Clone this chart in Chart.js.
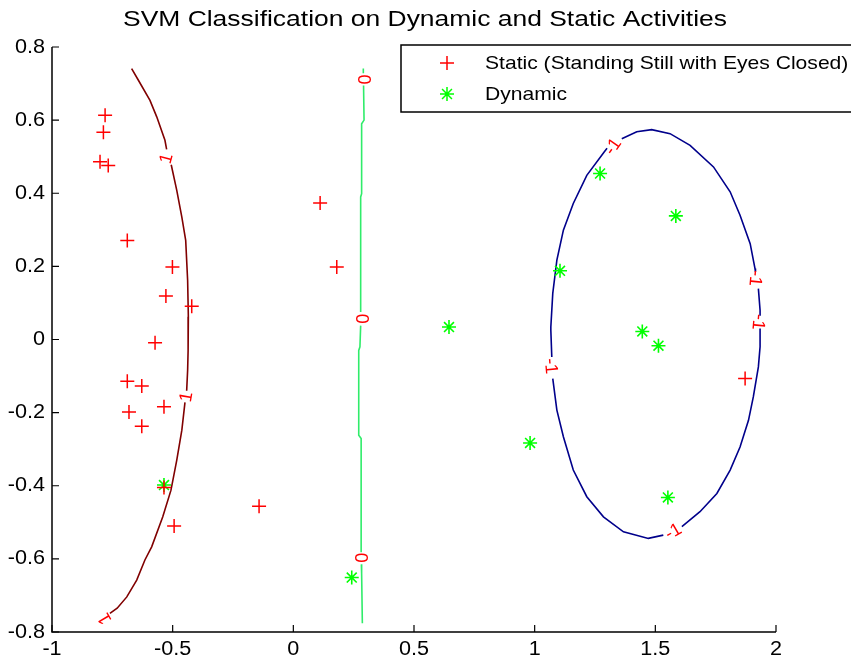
<!DOCTYPE html>
<html>
<head>
<meta charset="utf-8">
<script src="https://cdn.jsdelivr.net/npm/chart.js@4"></script>
<style>
    html, body { margin: 0; padding: 0; background: #fff; }
    #wrap { width: 851px; height: 662px; }
</style>
</head>
<body>
<div id="wrap"><canvas id="svmChart" width="851" height="662"></canvas></div>
<script>
// scatter points
const staticX = [-0.780, -0.787, -0.801, -0.767, -0.688, -0.501, -0.528, -0.421, -0.573, -0.688,
                 -0.628, -0.536, -0.681, -0.628, -0.536, -0.494, -0.142, 0.111, 0.180, 1.872];
const staticY = [0.613, 0.567, 0.486, 0.476, 0.271, 0.198, 0.119, 0.091, -0.009, -0.114,
                 -0.127, -0.184, -0.198, -0.237, -0.405, -0.510, -0.456, 0.373, 0.198, -0.107];
const dynamicX = [-0.536, 0.645, 0.981, 0.242, 1.271, 1.585, 1.105, 1.446, 1.513, 1.552];
const dynamicY = [-0.398, 0.034, -0.283, -0.651, 0.454, 0.338, 0.188, 0.022, -0.017, -0.432];

// contour level 1 (left curve), NaN = gap for a label
const levelPosX = [-0.670, -0.642, -0.594, -0.566, -0.532, -0.525, NaN, -0.506, -0.483, -0.462, -0.446,
                   -0.438, -0.435, -0.436, -0.438, -0.442, NaN, -0.449, -0.462, -0.483, -0.507, -0.541,
                   -0.587, -0.615, -0.649, -0.690, -0.730, -0.760];
const levelPosY = [0.741, 0.709, 0.654, 0.609, 0.545, 0.520, NaN, 0.478, 0.408, 0.335, 0.271,
                   0.162, 0.062, -0.030, -0.084, -0.140, NaN, -0.172, -0.248, -0.330, -0.412, -0.485,
                   -0.567, -0.603, -0.658, -0.704, -0.735, -0.749];

// contour level 0
const levelZeroX = [0.290, 0.290, NaN, 0.291, 0.293, 0.283, 0.283, 0.279, 0.279, NaN, 0.279, 0.276,
                    0.271, 0.271, 0.281, 0.281, NaN, 0.282, 0.283, 0.286];
const levelZeroY = [0.741, 0.728, NaN, 0.695, 0.600, 0.590, 0.399, 0.390, 0.075, NaN, 0.038, -0.020,
                    -0.030, -0.262, -0.271, -0.582, NaN, -0.615, -0.640, -0.776];

// contour level -1 (ellipse)
const levelNegX = [1.361, 1.423, 1.485, 1.561, 1.644, 1.741, 1.810, 1.851, 1.893, 1.913, 1.915, NaN,
                   1.927, 1.934, 1.934, NaN, 1.934, 1.934, 1.934, 1.927, 1.906, 1.886, 1.851, 1.810,
                   1.755, 1.685, 1.610, NaN, 1.533, 1.471, 1.368, 1.285, 1.216, 1.160, 1.119, 1.092,
                   1.075, NaN, 1.071, 1.067, 1.067, 1.075, 1.092, 1.119, 1.160, 1.216, 1.288, 1.300];
const levelNegY = [0.549, 0.568, 0.574, 0.563, 0.531, 0.472, 0.404, 0.340, 0.262, 0.194, 0.185, NaN,
                   0.139, 0.080, 0.065, NaN, 0.030, 0.016, -0.020, -0.075, -0.157, -0.221, -0.294, -0.357,
                   -0.421, -0.471, -0.512, NaN, -0.535, -0.544, -0.526, -0.485, -0.430, -0.357, -0.266, -0.193,
                   -0.107, NaN, -0.048, 0.025, 0.034, 0.126, 0.217, 0.299, 0.372, 0.449, 0.513, 0.523];

// contour labels: text, x, y, rotation (deg)
const labelText = ['1', '1', '1', '0', '0', '0', '-1', '-1', '-1', '-1', '-1'];
const labelX = [-0.525, -0.442, -0.780, 0.290, 0.279, 0.278, 1.326, 1.913, 1.926, 1.065, 1.575];
const labelY = [0.495, -0.157, -0.763, 0.711, 0.057, -0.597, 0.527, 0.168, 0.048, -0.073, -0.526];
const labelRot = [-75, -80, -120, 90, 90, 90, -55, 95, 95, 85, -30];

const xTicks = [-1, -0.5, 0, 0.5, 1, 1.5, 2];
const yTicks = [-0.8, -0.6, -0.4, -0.2, 0, 0.2, 0.4, 0.6, 0.8];

const titleText = 'SVM Classification on Dynamic and Static Activities';
const legendLabels = ['Static (Standing Still with Eyes Closed)', 'Dynamic'];

const FONT = "'Liberation Sans', Arial, Helvetica, sans-serif";

function toPoints(xs, ys) {
    return xs.map((x, i) => ({ x: x, y: ys[i] }));
}

// text drawn a bit wider, like the MATLAB export
function wideText(ctx, text, x, y, stretch) {
    ctx.save();
    ctx.translate(x, y);
    ctx.scale(stretch, 1);
    ctx.fillText(text, 0, 0);
    ctx.restore();
}

const matlabDecor = {
    id: 'matlabDecor',
    afterDraw(chart) {
        const ctx = chart.ctx;
        const xs = chart.scales.x;
        const ys = chart.scales.y;
        const area = chart.chartArea;

        ctx.save();
        // axis lines
        ctx.strokeStyle = '#000';
        ctx.lineWidth = 1.5;
        ctx.beginPath();
        ctx.moveTo(area.left, area.top);
        ctx.lineTo(area.left, area.bottom);
        ctx.lineTo(area.right, area.bottom);
        ctx.stroke();

        // inward ticks
        ctx.lineWidth = 1.2;
        ctx.beginPath();
        xTicks.forEach(v => {
            const px = xs.getPixelForValue(v);
            ctx.moveTo(px, area.bottom);
            ctx.lineTo(px, area.bottom - 7);
        });
        yTicks.forEach(v => {
            const py = ys.getPixelForValue(v);
            ctx.moveTo(area.left, py);
            ctx.lineTo(area.left + 7, py);
        });
        ctx.stroke();

        // tick labels
        ctx.fillStyle = '#000';
        ctx.font = '20px ' + FONT;
        ctx.textBaseline = 'middle';
        ctx.textAlign = 'center';
        xTicks.forEach(v => {
            wideText(ctx, String(v), xs.getPixelForValue(v), area.bottom + 17, 1.08);
        });
        ctx.textAlign = 'right';
        yTicks.forEach(v => {
            wideText(ctx, String(v), area.left - 7, ys.getPixelForValue(v), 1.08);
        });

        // contour labels
        ctx.fillStyle = '#ff0000';
        ctx.font = '18px ' + FONT;
        ctx.textAlign = 'center';
        ctx.textBaseline = 'middle';
        labelText.forEach((t, i) => {
            ctx.save();
            ctx.translate(xs.getPixelForValue(labelX[i]), ys.getPixelForValue(labelY[i]));
            ctx.rotate(labelRot[i] * Math.PI / 180);
            ctx.fillText(t, 0, 0);
            ctx.restore();
        });

        // title
        ctx.fillStyle = '#000';
        ctx.font = '22px ' + FONT;
        const tw = ctx.measureText(titleText).width;
        wideText(ctx, titleText, 425, 20, 604 / tw);

        // legend box
        ctx.fillStyle = '#fff';
        ctx.fillRect(401, 45, 460, 67);
        ctx.strokeStyle = '#000';
        ctx.lineWidth = 1.5;
        ctx.strokeRect(401, 45, 460, 67);

        const ds = chart.data.datasets;
        [0, 1].forEach(i => {
            const yy = 63 + i * 31;
            ctx.strokeStyle = ds[i].borderColor;
            ctx.fillStyle = ds[i].borderColor;
            ctx.lineWidth = 1.5;
            Chart.helpers.drawPoint(ctx, {
                pointStyle: ds[i].pointStyle,
                radius: ds[i].pointRadius,
                rotation: 0,
                borderWidth: 1.5
            }, 447, yy);
            ctx.fillStyle = '#000';
            ctx.font = '19px ' + FONT;
            ctx.textAlign = 'left';
            wideText(ctx, legendLabels[i], 485, yy + 1, 1.11);
        });
        ctx.restore();
    }
};

new Chart(document.getElementById('svmChart').getContext('2d'), {
    type: 'scatter',
    data: {
        datasets: [
            {
                label: legendLabels[0],
                data: toPoints(staticX, staticY),
                pointStyle: 'cross',
                pointRadius: 7,
                borderColor: '#ff0000',
                backgroundColor: '#ff0000',
                borderWidth: 1.5,
                showLine: false
            },
            {
                label: legendLabels[1],
                data: toPoints(dynamicX, dynamicY),
                pointStyle: 'star',
                pointRadius: 7,
                borderColor: '#00ff00',
                backgroundColor: '#00ff00',
                borderWidth: 1.6,
                showLine: false
            },
            {
                label: 'level 1',
                data: toPoints(levelPosX, levelPosY),
                showLine: true,
                pointRadius: 0,
                borderColor: '#800000',
                borderWidth: 1.6,
                spanGaps: false
            },
            {
                label: 'level 0',
                data: toPoints(levelZeroX, levelZeroY),
                showLine: true,
                pointRadius: 0,
                borderColor: '#30ec6a',
                borderWidth: 1.6,
                spanGaps: false
            },
            {
                label: 'level -1',
                data: toPoints(levelNegX, levelNegY),
                showLine: true,
                pointRadius: 0,
                borderColor: '#00008b',
                borderWidth: 1.6,
                spanGaps: false
            }
        ]
    },
    options: {
        responsive: false,
        animation: false,
        layout: { padding: { top: 47, right: 75, left: 0, bottom: 0 } },
        plugins: {
            legend: { display: false },
            tooltip: { enabled: false },
            title: { display: false }
        },
        scales: {
            x: {
                type: 'linear',
                min: -1,
                max: 2,
                afterFit: s => { s.height = 30; },
                grid: { display: false },
                border: { display: false },
                ticks: { display: false }
            },
            y: {
                type: 'linear',
                min: -0.8,
                max: 0.8,
                afterFit: s => { s.width = 52; },
                grid: { display: false },
                border: { display: false },
                ticks: { display: false }
            }
        }
    },
    plugins: [matlabDecor]
});
</script>
</body>
</html>
